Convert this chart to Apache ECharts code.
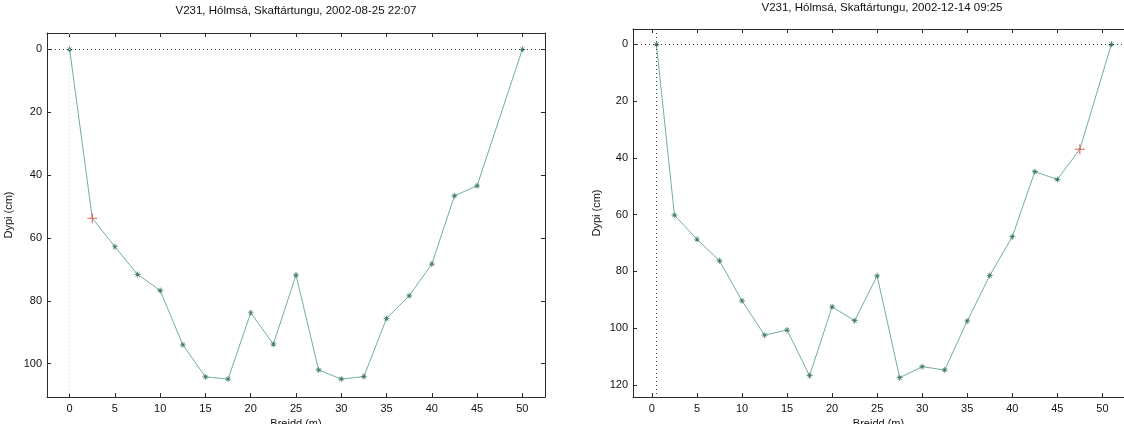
<!DOCTYPE html>
<html>
<head>
<meta charset="utf-8">
<script src="https://cdn.jsdelivr.net/npm/echarts@6/dist/echarts.min.js"></script>
<style>
html,body{margin:0;padding:0;background:#fff;}
#c{width:1124px;height:424px;}
</style>
</head>
<body>
<div id="c"></div>
<script>
// ---- data ----
var title1 = 'V231, Hólmsá, Skaftártungu, 2002-08-25 22:07';
var title2 = 'V231, Hólmsá, Skaftártungu, 2002-12-14 09:25';
var xName = 'Breidd (m)';
var yName = 'Dypi (cm)';

var width1 = [0, 2.5, 5, 7.5, 10, 12.5, 15, 17.5, 20, 22.5, 25, 27.5, 30, 32.5, 35, 37.5, 40, 42.5, 45, 50];
var depth1 = [0, 53.7, 62.8, 71.6, 76.7, 94, 104.2, 104.9, 83.8, 93.8, 71.8, 102, 104.9, 104.1, 85.6, 78.4, 68.3, 46.6, 43.4, 0];
var red1 = 1; // index of the red marker

var width2 = [0.5, 2.5, 5, 7.5, 10, 12.5, 15, 17.5, 20, 22.5, 25, 27.5, 30, 32.5, 35, 37.5, 40, 42.5, 45, 47.5, 51];
var depth2 = [0, 60.2, 68.7, 76.3, 90.4, 102.5, 100.7, 116.8, 92.5, 97.4, 81.6, 117.5, 113.6, 114.8, 97.5, 81.5, 67.8, 44.9, 47.6, 37, 0];
var red2 = 19;

var xTicks = [0, 5, 10, 15, 20, 25, 30, 35, 40, 45, 50];
var yTicks1 = [0, 20, 40, 60, 80, 100];
var yTicks2 = [0, 20, 40, 60, 80, 100, 120];

// ---- styles ----
var FONT = 'Liberation Sans';
var AX = '#2b2b2b';
var LINE = '#72b096';
var MARK = '#3f7a60';
var RED = '#d8362b';
var STAR = 'path://M0,4.4H10V5.6H0Z M4.4,0H5.6V10H4.4Z M1.3,2.1L2.1,1.3L8.7,7.9L7.9,8.7Z M7.9,1.3L8.7,2.1L2.1,8.7L1.3,7.9Z';
var PLUS = 'path://M0,4.5H10V5.5H0Z M4.5,0H5.5V10H4.5Z';

function pairs(xs, ys, redIdx){
  return xs.map(function(x,i){
    var d = {value:[x, ys[i]]};
    if(i === redIdx){ d.symbol = 'none'; }
    return d;
  });
}

function xAxes(gi, min, max){
  var base = {
    type:'value', gridIndex:gi, min:min, max:max,
    splitLine:{show:false},
    axisLine:{show:true, onZero:false, lineStyle:{color:AX, width:1}},
    axisTick:{show:true, inside:true, length:4, customValues:xTicks, lineStyle:{color:AX}},
    axisLabel:{show:true, customValues:xTicks, margin:6, color:'#111', fontFamily:FONT, fontSize:11}
  };
  var bottom = Object.assign({}, base, {position:'bottom', name:xName, nameLocation:'middle', nameGap:21,
    nameTextStyle:{fontFamily:FONT, fontSize:11, color:'#111'}});
  var top = Object.assign({}, base, {position:'top', axisLabel:{show:false, customValues:xTicks}});
  return [bottom, top];
}

function yAxes(gi, min, max, ticks, gap, showRight){
  var base = {
    type:'value', gridIndex:gi, min:min, max:max, inverse:true,
    splitLine:{show:false},
    axisLine:{show:true, onZero:false, lineStyle:{color:AX, width:1}},
    axisTick:{show:true, inside:true, length:4, customValues:ticks, lineStyle:{color:AX}},
    axisLabel:{show:true, customValues:ticks, margin:5, color:'#111', fontFamily:FONT, fontSize:11}
  };
  var left = Object.assign({}, base, {position:'left', name:yName, nameLocation:'middle', nameGap:gap,
    nameTextStyle:{fontFamily:FONT, fontSize:11, color:'#111'}});
  var right = Object.assign({}, base, {position:'right', axisLine:{show:showRight, onZero:false, lineStyle:{color:AX}},
    axisTick:{show:showRight, inside:true, length:4, customValues:ticks, lineStyle:{color:AX}},
    axisLabel:{show:false, customValues:ticks}});
  return [left, right];
}

var xa = xAxes(0, -2.5, 52.5).concat(xAxes(1, -2.1, 52.4));
var ya = yAxes(0, -5.2, 110.6, yTicks1, 33, true).concat(yAxes(1, -5.4, 124.3, yTicks2, 31, false));

function profile(xi, yi, xs, ys, redIdx, vline, vcolor){
  return [
    {
      type:'line', xAxisIndex:xi, yAxisIndex:yi,
      data: pairs(xs, ys, redIdx),
      symbol: STAR, symbolSize:6, showSymbol:true,
      lineStyle:{color:LINE, width:1},
      itemStyle:{color:MARK},
      animation:false, z:3,
      markLine:{
        silent:true, symbol:'none', animation:false,
        label:{show:false},
        data:[
          {yAxis:0, lineStyle:{type:[1,3], color:'#333', width:1}},
          {xAxis:vline, lineStyle:{type:[1,3], color:vcolor, width:1}}
        ]
      }
    },
    {
      type:'scatter', xAxisIndex:xi, yAxisIndex:yi,
      data:[[xs[redIdx], ys[redIdx]]],
      symbol: PLUS, symbolSize:10,
      itemStyle:{color:RED},
      animation:false, z:4
    }
  ];
}

var chart = echarts.init(document.getElementById('c'), null, {renderer:'canvas'});
chart.setOption({
  backgroundColor:'#ffffff',
  animation:false,
  title:[
    {text:title1, left:296, top:5, padding:0, textAlign:'center',
     textStyle:{fontFamily:FONT, fontSize:11.5, fontWeight:'normal', color:'#111'}},
    {text:title2, left:882, top:2, padding:0, textAlign:'center',
     textStyle:{fontFamily:FONT, fontSize:11.5, fontWeight:'normal', color:'#111'}}
  ],
  grid:[
    {left:47, top:33, width:498, height:364, show:false, outerBoundsMode:'none', containLabel:false},
    {left:633, top:29, right:0, height:368, show:false, outerBoundsMode:'none', containLabel:false}
  ],
  xAxis: xa,
  yAxis: ya,
  series: profile(0, 0, width1, depth1, red1, 0, '#d9d9d9')
    .concat(profile(2, 2, width2, depth2, red2, 0.5, '#444'))
});
</script>
</body>
</html>
